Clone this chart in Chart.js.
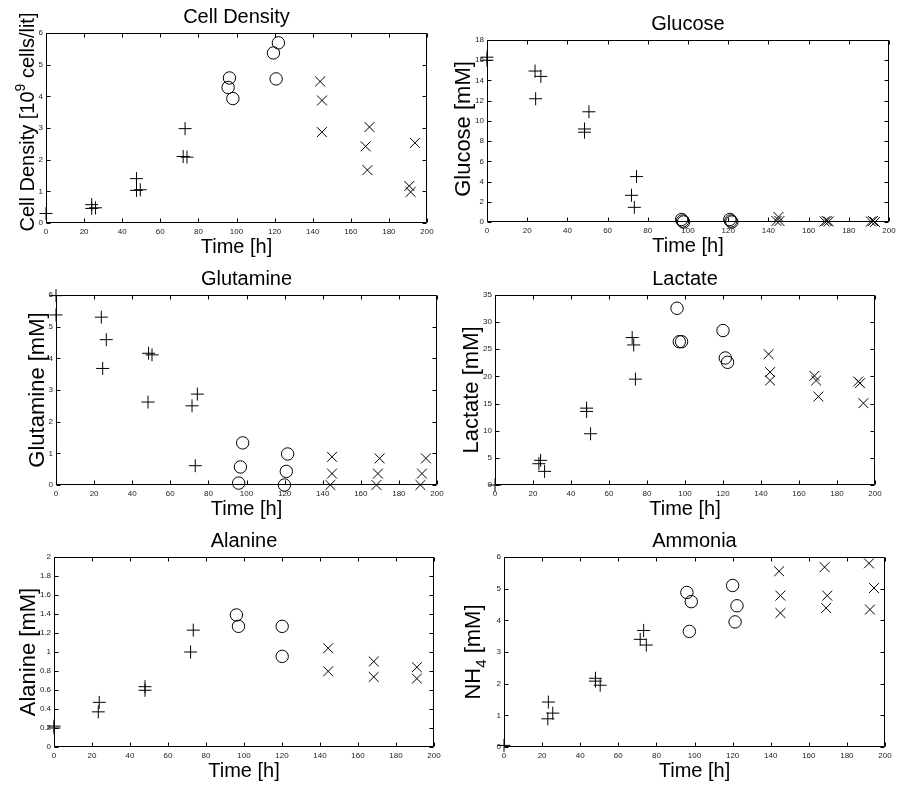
<!DOCTYPE html>
<html><head><meta charset="utf-8">
<script src="https://cdn.jsdelivr.net/npm/chart.js@4.4.1/dist/chart.umd.min.js"></script>
<style>
html,body{margin:0;padding:0;background:#fff;}
#wrap{position:relative;width:897px;height:785px;overflow:hidden;background:#fff;}
#wrap canvas{position:absolute;left:0;top:0;}
</style></head><body><div id="wrap"></div>
<script>
// ---------- tick labels ----------
const timeTicks = [0,20,40,60,80,100,120,140,160,180,200];
const cellTicks = [0,1,2,3,4,5,6];
const glucoseTicks = [0,2,4,6,8,10,12,14,16,18];
const glutamineTicks = [0,1,2,3,4,5,6];
const lactateTicks = [0,5,10,15,20,25,30,35];
const alanineTicks = [0,0.2,0.4,0.6,0.8,1,1.2,1.4,1.6,1.8,2];
const ammoniaTicks = [0,1,2,3,4,5,6];

// ---------- data: [time h, value] ----------
const cellPlus = [[0,0.3],[24,0.58],[24,0.46],[26,0.48],[47.5,1.4],[47.5,1.03],[49.5,1.05],[73,2.98],[72,2.1],[74,2.08]];
const cellCircle = [[96.3,4.58],[95.6,4.28],[98.1,3.93],[119.4,5.37],[122,5.69],[120.8,4.55]];
const cellCross = [[143.9,4.47],[144.9,3.87],[144.8,2.87],[167.8,2.42],[169.8,3.03],[168.7,1.67],[190.7,1.17],[191.4,0.98],[193.7,2.53]];

const glucosePlus = [[0,16.3],[0,16.0],[23.9,14.93],[26.8,14.4],[24.2,12.19],[48.5,9.2],[48.5,8.88],[50.7,10.9],[71.9,2.64],[74.4,4.49],[73.3,1.45]];
const glucoseCircle = [[96.8,0.25],[97.3,0.1],[97.8,0.0],[120.8,0.25],[121.3,0.1],[121.8,0.0]];
const glucoseCross = [[144,0.1],[145,0.5],[145.5,0.1],[168,0.05],[169,0.1],[170,0.05],[191,0.05],[192,0.1],[193,0.0]];

const glutaminePlus = [[0,5.98],[0,5.37],[23.8,5.3],[26.4,4.59],[24.5,3.68],[48.6,4.16],[50.4,4.11],[48.3,2.62],[71.4,2.5],[74.2,2.87],[73.1,0.61]];
const glutamineCircle = [[95.9,0.06],[96.8,0.57],[98,1.33],[119.9,0.0],[120.9,0.43],[121.6,0.98]];
const glutamineCross = [[144,0.0],[144.9,0.36],[144.9,0.89],[168.2,0.0],[169,0.36],[169.9,0.84],[191.3,0.0],[192.1,0.36],[194.2,0.84]];

const lactatePlus = [[0,0],[24,4.54],[23.1,3.92],[26.1,2.51],[48.2,14.16],[48.2,13.55],[50.3,9.44],[72.2,27.16],[73,25.8],[73.9,19.5]];
const lactateCircle = [[95.8,32.56],[97,26.4],[98.2,26.4],[120,28.45],[121.2,23.4],[122.4,22.6]];
const lactateCross = [[144,24.1],[144.8,20.8],[144.8,19.25],[168.1,20.1],[169,19.25],[170.2,16.3],[191.2,19.07],[192.1,18.76],[193.9,15.08]];

const alaninePlus = [[0,0.22],[0,0.2],[23.8,0.47],[23.3,0.37],[47.9,0.635],[47.9,0.597],[71.9,1.0],[73.3,1.23]];
const alanineCircle = [[96,1.39],[97.1,1.27],[120.1,1.27],[120.1,0.954]];
const alanineCross = [[144.3,1.04],[144.3,0.797],[168.3,0.9],[168.3,0.737],[191,0.84],[191,0.72]];

const ammoniaPlus = [[0,0.05],[23.3,1.42],[23,0.89],[25.6,1.07],[48,2.17],[48,2.08],[50.5,1.95],[73.3,3.68],[71.5,3.4],[74.7,3.22]];
const ammoniaCircle = [[96,4.88],[98.3,4.59],[97.3,3.65],[120,5.1],[122.3,4.46],[121.3,3.95]];
const ammoniaCross = [[144.4,5.55],[145.1,4.78],[145.1,4.23],[168.3,5.68],[169.7,4.78],[169.1,4.39],[191.6,5.8],[194.2,5.02],[192.1,4.34]];

// ---------- layout / style ----------
const W = 897, H = 785;
const FONT = '"Liberation Sans", Arial, Helvetica, sans-serif';
const TICK_FONT = 8;
const TICK_PAD = 3;
const YAXIS_W = 30;
const XAXIS_H = 20;

const panels = [
  {title:'Cell Density', box:[46,33,427,223], yTicks:cellTicks,
   ylabel:[['Cell Density [10','n'],['9','sup'],[' cells/lit]','n']], yfs:20, extra:0, yshift:-6,
   plus:cellPlus, circle:cellCircle, cross:cellCross},
  {title:'Glucose', box:[487,40,892,222], yTicks:glucoseTicks,
   ylabel:[['Glucose [mM]','n']], yfs:22, extra:0, yshift:-2,
   plus:glucosePlus, circle:glucoseCircle, cross:glucoseCross},
  {title:'Glutamine', box:[56,295,437,485], yTicks:glutamineTicks,
   ylabel:[['Glutamine [mM]','n']], yfs:22, extra:0, yshift:0,
   plus:glutaminePlus, circle:glutamineCircle, cross:glutamineCross},
  {title:'Lactate', box:[495,295,875,485], yTicks:lactateTicks,
   ylabel:[['Lactate [mM]','n']], yfs:22, extra:0, yshift:0,
   plus:lactatePlus, circle:lactateCircle, cross:lactateCross},
  {title:'Alanine', box:[54,557,434,747], yTicks:alanineTicks,
   ylabel:[['Alanine [mM]','n']], yfs:22, extra:0, yshift:0,
   plus:alaninePlus, circle:alanineCircle, cross:alanineCross},
  {title:'Ammonia', box:[504,557,885,747], yTicks:ammoniaTicks,
   ylabel:[['NH','n'],['4','sub'],[' [mM]','n']], yfs:22, extra:12, yshift:0,
   plus:ammoniaPlus, circle:ammoniaCircle, cross:ammoniaCross}
];

const framePlugin = {
  id: 'frame',
  afterDraw(chart) {
    const p = chart.config.options.plugins.frame;
    const {ctx, chartArea: a} = chart;
    const xs = chart.scales.x, ys = chart.scales.y;
    ctx.save();
    ctx.strokeStyle = '#000';
    ctx.lineWidth = 1;
    const L = Math.round(a.left) + 0.5, R = Math.round(a.right) - 0.5;
    const T = Math.round(a.top) + 0.5, B = Math.round(a.bottom) - 0.5;
    ctx.beginPath();
    ctx.rect(L, T, R - L, B - T);
    const tl = 4;
    xs.ticks.forEach(t => {
      const px = Math.round(xs.getPixelForValue(t.value)) + 0.5;
      ctx.moveTo(px, B); ctx.lineTo(px, B - tl);
      ctx.moveTo(px, T); ctx.lineTo(px, T + tl);
    });
    ys.ticks.forEach(t => {
      const py = Math.round(ys.getPixelForValue(t.value)) + 0.5;
      ctx.moveTo(L, py); ctx.lineTo(L + tl, py);
      ctx.moveTo(R, py); ctx.lineTo(R - tl, py);
    });
    ctx.stroke();

    ctx.fillStyle = '#000';
    const cx = (a.left + a.right) / 2, cy = (a.top + a.bottom) / 2 + p.yshift;
    ctx.font = '20px ' + FONT;
    ctx.textAlign = 'center';
    ctx.textBaseline = 'alphabetic';
    ctx.fillText(p.title, cx, a.top - 10);
    ctx.fillText('Time [h]', cx, a.bottom + 30);
    ctx.font = TICK_FONT + 'px ' + FONT;
    let widest = 0;
    ys.ticks.forEach(t => { widest = Math.max(widest, ctx.measureText(String(t.label)).width); });
    const bx = a.left - TICK_PAD - widest - 5 - p.extra;
    const fs = p.yfs, small = Math.round(fs * 0.7);
    let total = 0;
    p.ylabel.forEach(([s, k]) => {
      ctx.font = (k === 'n' ? fs : small) + 'px ' + FONT;
      total += ctx.measureText(s).width;
    });
    ctx.translate(bx, cy);
    ctx.rotate(-Math.PI / 2);
    ctx.textAlign = 'left';
    let x0 = -total / 2;
    p.ylabel.forEach(([s, k]) => {
      ctx.font = (k === 'n' ? fs : small) + 'px ' + FONT;
      const dy = k === 'sup' ? -fs * 0.42 : (k === 'sub' ? fs * 0.3 : 0);
      ctx.fillText(s, x0, dy);
      x0 += ctx.measureText(s).width;
    });
    ctx.restore();
  }
};

const wrap = document.getElementById('wrap');

function toPts(arr) { return arr.map(p => ({x: p[0], y: p[1]})); }

panels.forEach(p => {
  const c = document.createElement('canvas');
  c.width = W; c.height = H;
  c.style.width = W + 'px'; c.style.height = H + 'px';
  wrap.appendChild(c);
  const yMin = p.yTicks[0], yMax = p.yTicks[p.yTicks.length - 1];
  const common = {borderColor:'#000', backgroundColor:'rgba(0,0,0,0)', pointBorderWidth:1, showLine:false, clip:false};
  new Chart(c, {
    type: 'scatter',
    data: {datasets: [
      Object.assign({data: toPts(p.plus), pointStyle:'cross', pointRadius:6.5}, common),
      Object.assign({data: toPts(p.circle), pointStyle:'circle', pointRadius:6.2}, common),
      Object.assign({data: toPts(p.cross), pointStyle:'crossRot', pointRadius:7}, common)
    ]},
    options: {
      responsive:false, animation:false, events:[], devicePixelRatio:1,
      layout:{padding:{left:p.box[0] - YAXIS_W, top:p.box[1], right:W - p.box[2], bottom:H - p.box[3] - XAXIS_H}},
      plugins:{legend:{display:false}, tooltip:{enabled:false},
        frame:{title:p.title, ylabel:p.ylabel, yfs:p.yfs, extra:p.extra, yshift:p.yshift}},
      scales:{
        x:{type:'linear', position:'bottom', min:0, max:200,
          afterBuildTicks: s => { s.ticks = timeTicks.map(v => ({value:v})); },
          afterFit: s => { s.height = XAXIS_H; s.paddingLeft = 0; s.paddingRight = 0; },
          grid:{display:false, drawTicks:false}, border:{display:false},
          ticks:{padding:4, color:'#222', font:{family:FONT, size:TICK_FONT}, maxRotation:0, autoSkip:false, callback: v => String(v)}},
        y:{type:'linear', position:'left', min:yMin, max:yMax,
          afterBuildTicks: s => { s.ticks = p.yTicks.map(v => ({value:v})); },
          afterFit: s => { s.width = YAXIS_W; s.paddingTop = 0; s.paddingBottom = 0; },
          grid:{display:false, drawTicks:false}, border:{display:false},
          ticks:{padding:TICK_PAD, color:'#222', font:{family:FONT, size:TICK_FONT}, autoSkip:false, callback: v => String(v)}}
      }
    },
    plugins:[framePlugin]
  });
});
</script></body></html>
